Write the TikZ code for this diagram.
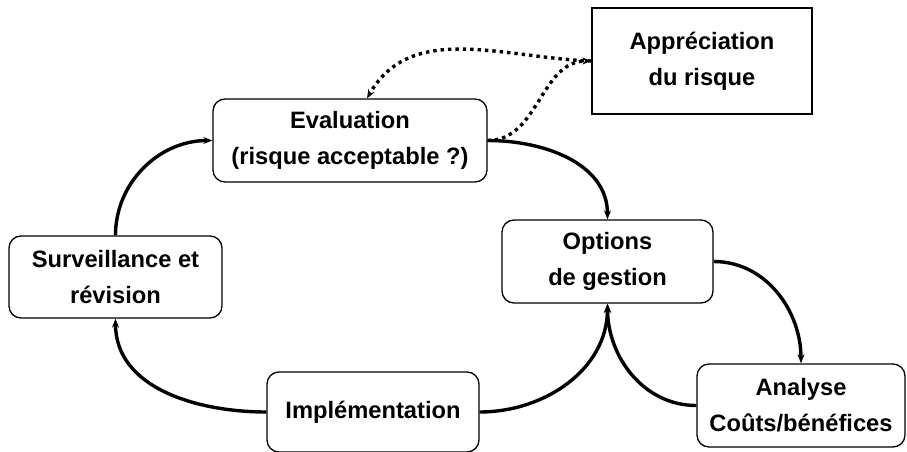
\documentclass[tikz,border=0pt]{standalone}
\usepackage{fontspec}
\setmainfont{Liberation Sans}
\usetikzlibrary{arrows.meta}
\begin{document}
\begin{tikzpicture}[x=1pt,y=-1pt,
  box/.style={draw, line width=1.3pt, rounded corners=12pt, align=center,
    font=\fontsize{23.7}{36}\selectfont\bfseries},
  flow/.style={line width=3.4pt, -{Stealth[length=9pt,width=7pt]}},
  dots/.style={line width=3.4pt, dash pattern=on 3.4pt off 4pt,
    -{Stealth[length=9pt,width=7pt]}}]
\tikzstyle{every node}+=[inner sep=0pt]
\useasboundingbox (0,0) rectangle (907,452);
% the boxes
\node [box, rounded corners=0pt, minimum width=220pt, minimum height=106pt] (appr) at (702,61) {Appréciation\\du risque};
\node [box, minimum width=274pt, minimum height=83pt] (eval) at (350,140.5) {Evaluation\\(risque acceptable ?)};
\node [box, minimum width=211pt, minimum height=83pt] (opt) at (607.5,261.5) {Options\\de gestion};
\node [box, minimum width=213pt, minimum height=82pt] (surv) at (115.5,277) {Surveillance et\\révision};
\node [box, minimum width=212pt, minimum height=80pt] (impl) at (373,412) {Implémentation};
\node [box, minimum width=208pt, minimum height=83pt] (anal) at (801,405.5) {Analyse\\Coûts/bénéfices};
% the cycle
\draw [flow] (eval.east) to[out=0,in=90] (opt.north);
\draw [flow] (opt.east) to[out=0,in=90] (anal.north);
\draw [flow] (anal.west) to[out=180,in=-90] (opt.south);
\draw [flow] (impl.east) to[out=0,in=-90] (opt.south);
\draw [flow] (impl.west) to[out=180,in=-90] (surv.south);
\draw [flow] (surv.north) to[out=90,in=180] (eval.west);
% dotted links to the appraisal
\draw [dots] (eval.east) to[out=0,in=180] (appr.west);
\draw [dots] (appr.west) to[out=178,in=60] ([xshift=17pt]eval.north);
\end{tikzpicture}
\end{document}
